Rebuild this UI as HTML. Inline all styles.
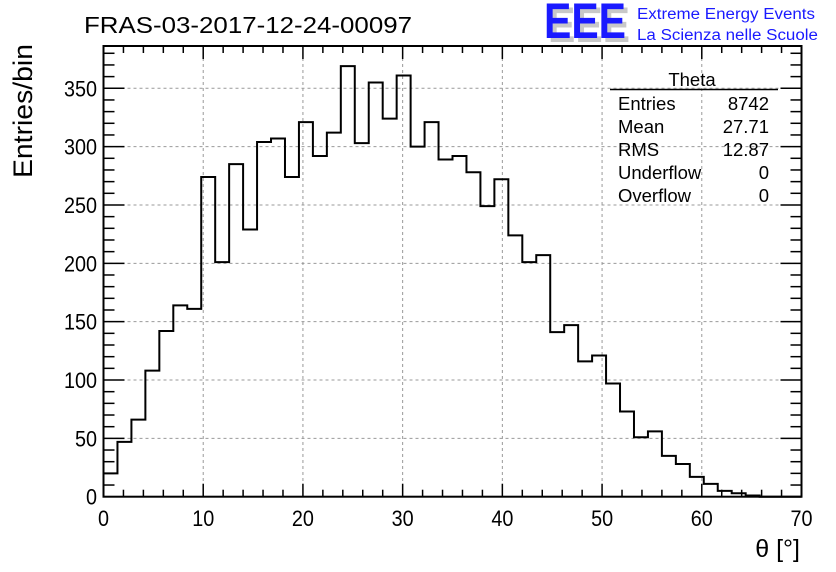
<!DOCTYPE html>
<html><head><meta charset="utf-8"><style>
body{margin:0;background:#fff;}
svg{display:block;font-family:"Liberation Sans",sans-serif;}
</style></head><body>
<svg id="chart" width="836" height="572" viewBox="0 0 836 572" xmlns="http://www.w3.org/2000/svg">
<rect width="836" height="572" fill="#fff"/>
<text x="84" y="33" font-size="23" textLength="328" lengthAdjust="spacingAndGlyphs">FRAS-03-2017-12-24-00097</text>
<g>
<text x="548" y="42" font-size="50" font-weight="bold" fill="#c8c8c8" textLength="82" lengthAdjust="spacingAndGlyphs">EEE</text>
<text x="544" y="38" font-size="50" font-weight="bold" fill="#1a1aff" textLength="82" lengthAdjust="spacingAndGlyphs">EEE</text>
<text x="637" y="19" font-size="15.5" fill="#1a1aff" textLength="178" lengthAdjust="spacingAndGlyphs">Extreme Energy Events</text>
<text x="637" y="40" font-size="15.5" fill="#1a1aff" textLength="181" lengthAdjust="spacingAndGlyphs">La Scienza nelle Scuole</text>
</g>
<g id="grid"></g>
<g id="ticks"></g>
<path id="hist" fill="none" stroke="#000" stroke-width="2"/>
<rect x="103.5" y="46" width="698" height="450.7" fill="none" stroke="#000" stroke-width="2"/>
<g id="labels"></g>
<text transform="translate(32,178) rotate(-90)" font-size="27" textLength="134" lengthAdjust="spacingAndGlyphs">Entries/bin</text>
<text x="800" y="557" font-size="25" text-anchor="end">θ [°]</text>
<g font-size="18.5">
<text x="692" y="86" text-anchor="middle">Theta</text>
<line x1="610" y1="89.5" x2="778" y2="89.5" stroke="#000" stroke-width="1.5"/>
<text x="618" y="110">Entries</text><text x="769" y="110" text-anchor="end">8742</text>
<text x="618" y="133">Mean</text><text x="769" y="133" text-anchor="end">27.71</text>
<text x="618" y="156">RMS</text><text x="769" y="156" text-anchor="end">12.87</text>
<text x="618" y="179">Underflow</text><text x="769" y="179" text-anchor="end">0</text>
<text x="618" y="202">Overflow</text><text x="769" y="202" text-anchor="end">0</text>
</g>
</svg>
<script>
const binEdgeStart = 0;
const binWidth = 1.4;
const counts = [20,47,66,108,142,164,161,274,201,285,229,304,307,274,321,292,312,369,303,355,324,361,300,321,289,292,278,249,272,224,201,207,141,147,116,121,97,73,51,56,35,28,17,11,5,3,1,0,0,0];
const xTicks = [0,10,20,30,40,50,60,70];
const yTicks = [0,50,100,150,200,250,300,350];
const NS="http://www.w3.org/2000/svg";
const X0=103.5, X1=801.5, Y0=496.7, YT=46;
const xs = v => X0 + (v-0)/70*(X1-X0);
const ys = v => Y0 - v*1.1669;
function mk(tag, attrs, parent){const e=document.createElementNS(NS,tag);for(const k in attrs)e.setAttribute(k,attrs[k]);parent.appendChild(e);return e;}
const grid=document.getElementById('grid'), ticks=document.getElementById('ticks'), labels=document.getElementById('labels');
xTicks.forEach(v=>{
  if(v>0&&v<70){const g=mk('line',{x1:xs(v),x2:xs(v),y1:YT,y2:Y0,stroke:'#999','stroke-width':1,'stroke-dasharray':'3,3'},grid);
  
  }
  const t=mk('text',{x:xs(v),y:526,'font-size':22,'text-anchor':'middle',transform:'translate('+xs(v)+',0) scale(0.9,1) translate('+(-xs(v))+',0)'},labels);
  t.textContent=v;
  
  
});
for(let v=0;v<=70;v+=2){const L=(v%10===0)?13:7;
  mk('line',{x1:xs(v),x2:xs(v),y1:Y0,y2:Y0-L,stroke:'#000','stroke-width':1.5},ticks);
  mk('line',{x1:xs(v),x2:xs(v),y1:YT,y2:YT+L,stroke:'#000','stroke-width':1.5},ticks);}
yTicks.forEach(v=>{
  if(v>0){const g=mk('line',{x1:X0,x2:X1,y1:ys(v),y2:ys(v),stroke:'#999','stroke-width':1,'stroke-dasharray':'3,3'},grid);
  
  }
  const t=mk('text',{x:97,y:ys(v)+8,'font-size':22,'text-anchor':'end',transform:'translate(97,0) scale(0.9,1) translate(-97,0)'},labels);
  t.textContent=v;
  
  
});
for(let v=0;v<=380;v+=10){const L=(v%50===0)?21:11;
  mk('line',{x1:X0,x2:X0+L,y1:ys(v),y2:ys(v),stroke:'#000','stroke-width':1.5},ticks);
  mk('line',{x1:X1,x2:X1-L,y1:ys(v),y2:ys(v),stroke:'#000','stroke-width':1.5},ticks);}
let d='M'+xs(binEdgeStart)+','+ys(0);
counts.forEach((c,i)=>{const a=binEdgeStart+i*binWidth,b=a+binWidth;
  d+=' L'+xs(a)+','+ys(c)+' L'+xs(b)+','+ys(c);});
d+=' L'+xs(binEdgeStart+counts.length*binWidth)+','+ys(0);
document.getElementById('hist').setAttribute('d',d);
</script>
</body></html>
